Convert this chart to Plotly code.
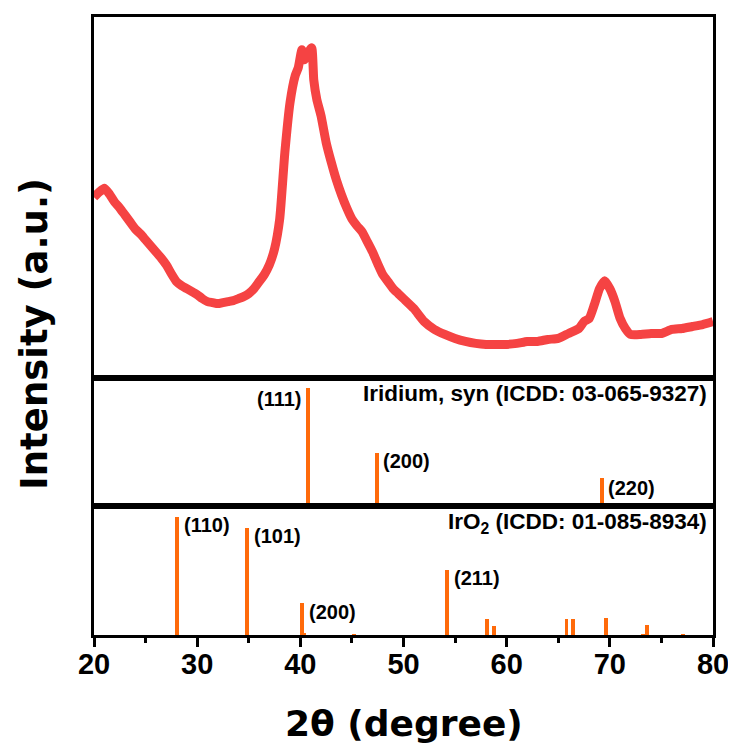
import plotly.graph_objects as go
from plotly.subplots import make_subplots

# ---- measured XRD pattern (2theta in degrees, intensity a.u.) ----
xrd_2theta = [20, 20.5, 21, 21.5, 22, 22.5, 23, 23.5, 24, 24.5, 25, 25.5, 26, 26.5, 27, 27.5,
              28, 28.5, 29, 29.5, 30, 30.5, 31, 31.5, 32, 32.5, 33, 33.5, 34, 34.5, 35, 35.5,
              36, 36.5, 37, 37.5, 38, 38.5, 39, 39.5, 39.8, 40.15, 40.4, 40.7, 41.1, 41.3, 41.6,
              42, 42.5, 43, 43.5, 44, 44.5, 45, 45.5, 46, 46.5, 47, 47.5, 48, 48.5, 49, 49.5,
              50, 51, 52, 53, 54, 55, 56, 57, 58, 59, 60, 61, 62, 63, 64, 65, 66, 67, 67.5, 68,
              68.5, 69, 69.5, 70, 70.5, 71, 71.5, 72, 73, 74, 75, 76, 77, 78, 79, 80]
xrd_intensity = [182, 187, 191, 185, 177, 171, 164, 157, 150, 145, 139, 133, 127, 121, 114, 105,
                 97, 93, 90, 87, 84, 80, 77, 76, 75, 76, 77, 78, 80, 82, 85, 90,
                 97, 104, 114, 130, 160, 227, 277, 304, 312, 330, 320, 326, 332, 300, 280,
                 264, 237, 217, 199, 184, 171, 160, 153, 147, 137, 127, 115, 104, 97, 90, 85,
                 80, 70, 57, 49, 44, 40, 37, 35, 34, 34, 34, 35, 37, 37, 39, 40, 45, 50, 57, 60,
                 74, 90, 98, 90, 77, 60, 50, 44, 44, 45, 45, 49, 50, 52, 54, 57]

# ---- reference pattern: Iridium, syn (ICDD 03-065-9327) ----
ir_2theta = [40.74, 47.4, 69.2]
ir_intensity = [100, 45, 23]
ir_labels = ["(111)", "(200)", "(220)"]

# ---- reference pattern: IrO2 (ICDD 01-085-8934) ----
iro2_2theta = [28.06, 34.86, 40.12, 40.4, 45.2, 54.24, 58.1, 58.8, 65.8, 66.45, 69.6, 73.2, 73.6, 77.1]
iro2_intensity = [100, 91, 27, 2, 1.5, 55, 13.5, 7.5, 13.5, 14, 14.5, 1.5, 8.5, 1.5]
iro2_labels = ["(110)", "(101)", "(200)", "", "", "(211)", "", "", "", "", "", "", "", ""]

x_ticks = [20, 30, 40, 50, 60, 70, 80]

RED = "#F54343"
ORANGE = "#FF6A0A"
AX_FONT = "Liberation Sans, Arial, sans-serif"
TITLE_FONT = "DejaVu Sans, sans-serif"

fig = make_subplots(rows=3, cols=1, shared_xaxes=True, vertical_spacing=0,
                    row_heights=[363, 128, 130])

fig.add_trace(go.Scatter(x=xrd_2theta, y=xrd_intensity, mode="lines",
                         line=dict(color=RED, width=9, shape="spline", smoothing=0.5),
                         showlegend=False), row=1, col=1)
fig.add_trace(go.Bar(x=ir_2theta, y=ir_intensity, width=0.38, marker=dict(color=ORANGE, line_width=0),
                     showlegend=False), row=2, col=1)
fig.add_trace(go.Bar(x=iro2_2theta, y=iro2_intensity, width=0.38, marker=dict(color=ORANGE, line_width=0),
                     showlegend=False), row=3, col=1)

axis_common = dict(showline=True, mirror=True, linecolor="black", linewidth=2.5,
                   showgrid=False, zeroline=False)
for r in (1, 2):
    fig.update_xaxes(range=[20, 80], ticks="", showticklabels=False, row=r, col=1, **axis_common)
fig.update_xaxes(range=[20, 80], tickvals=x_ticks, ticks="outside", ticklen=9, tickwidth=2.5,
                 tickcolor="black", showticklabels=True, ticklabelstandoff=-8,
                 tickfont=dict(family=AX_FONT, size=29, color="black", weight="bold"),
                 minor=dict(ticks="outside", ticklen=5, tickwidth=2.5, tickcolor="black",
                            tickvals=[25, 35, 45, 55, 65, 75]),
                 row=3, col=1, **axis_common)
fig.update_yaxes(range=[0, 363], ticks="", showticklabels=False, row=1, col=1, **axis_common)
fig.update_yaxes(range=[0, 108.5], ticks="", showticklabels=False, row=2, col=1, **axis_common)
fig.update_yaxes(range=[0, 109.2], ticks="", showticklabels=False, row=3, col=1, **axis_common)

lab_font = dict(family=AX_FONT, size=20, color="black", weight="bold")
annotations = []
ir_offsets = [(-5, -11, "right"), (4, -8, "left"), (4, -9, "left")]
for x, y, t, (dx, dy, anc) in zip(ir_2theta, ir_intensity, ir_labels, ir_offsets):
    annotations.append(dict(x=x, y=y, xref="x2", yref="y2", text=t, showarrow=False,
                            xanchor=anc, yanchor="middle", xshift=dx, yshift=dy, font=lab_font))
for x, y, t in zip(iro2_2theta, iro2_intensity, iro2_labels):
    if t:
        annotations.append(dict(x=x, y=y, xref="x3", yref="y3", text=t, showarrow=False,
                                xanchor="left", yanchor="middle", xshift=5, yshift=-8.5, font=lab_font))

title_font = dict(family=AX_FONT, size=22.5, color="black", weight="bold")
annotations.append(dict(x=1, y=1, xref="paper", yref="y2 domain", text="Iridium, syn (ICDD: 03-065-9327)",
                        showarrow=False, xanchor="right", yanchor="middle", xshift=-4, yshift=-15,
                        font=title_font))
annotations.append(dict(x=1, y=1, xref="paper", yref="y3 domain", text="IrO<sub>2</sub> (ICDD: 01-085-8934)",
                        showarrow=False, xanchor="right", yanchor="middle", xshift=-4, yshift=-17,
                        font=title_font))
annotations.append(dict(x=0.5, y=0, xref="paper", yref="paper", text="2θ (degree)", showarrow=False,
                        xanchor="center", yanchor="middle", yshift=-88,
                        font=dict(family=TITLE_FONT, size=36, color="black", weight="bold")))
annotations.append(dict(x=0, y=0.5, xref="paper", yref="paper", text="Intensity (a.u.)", showarrow=False,
                        textangle=-90, xanchor="center", yanchor="middle", xshift=-60, yshift=-8,
                        font=dict(family=TITLE_FONT, size=37, color="black", weight="bold")))

# page body adds an 8 px margin, so the figure is 16 px smaller and offsets are reduced by 8
fig.update_layout(width=728, height=745, margin=dict(l=86, r=23, t=6, b=118),
                  paper_bgcolor="white", plot_bgcolor="white", annotations=annotations,
                  bargap=0)

fig.write_html("out.html")
